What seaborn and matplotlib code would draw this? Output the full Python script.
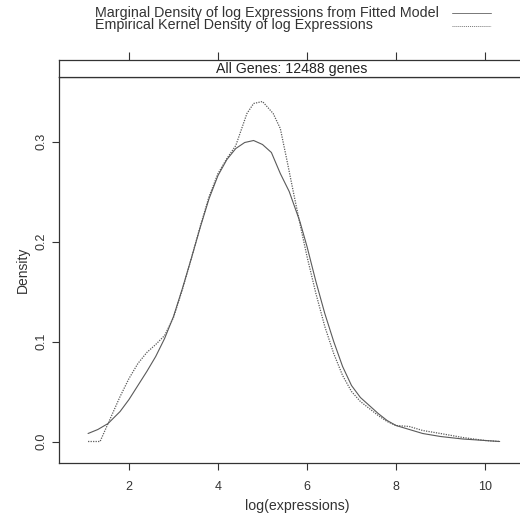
import numpy as np
import pandas as pd
import seaborn as sns
import matplotlib
matplotlib.use('Agg')
import matplotlib.pyplot as plt

# curves
fit_x = [1.08, 1.3, 1.53, 1.8, 2.0, 2.2, 2.4, 2.6, 2.8, 3.0, 3.2, 3.4, 3.6, 3.8, 4.0,
         4.2, 4.4, 4.6, 4.8, 5.0, 5.2, 5.4, 5.6, 5.84, 6.0, 6.2, 6.4, 6.6, 6.8, 7.0,
         7.2, 7.4, 7.6, 7.8, 8.0, 8.3, 8.6, 9.0, 9.5, 10.0, 10.33]
fit_y = [0.008, 0.012, 0.018, 0.03, 0.042, 0.056, 0.07, 0.085, 0.103, 0.125, 0.153, 0.183, 0.214, 0.243, 0.266,
         0.282, 0.293, 0.299, 0.301, 0.297, 0.289, 0.268, 0.25, 0.22, 0.195, 0.16, 0.128, 0.1, 0.075, 0.056,
         0.044, 0.036, 0.028, 0.021, 0.016, 0.012, 0.008, 0.005, 0.0025, 0.001, 0.0]

emp_x = [1.08, 1.35, 1.53, 1.8, 2.0, 2.2, 2.4, 2.6, 2.8, 3.0, 3.2, 3.4, 3.6, 3.8, 4.0,
         4.2, 4.4, 4.65, 4.8, 5.0, 5.24, 5.4, 5.55, 5.7, 5.84, 6.0, 6.2, 6.4, 6.6, 6.8, 7.0,
         7.2, 7.4, 7.6, 7.8, 8.0, 8.3, 8.6, 9.0, 9.5, 10.0, 10.33]
emp_y = [0.0, 0.0, 0.018, 0.045, 0.063, 0.078, 0.089, 0.097, 0.106, 0.124, 0.152, 0.183, 0.215, 0.245, 0.268,
         0.283, 0.296, 0.328, 0.338, 0.340, 0.328, 0.313, 0.281, 0.248, 0.218, 0.185, 0.148, 0.115, 0.088, 0.066, 0.05,
         0.04, 0.033, 0.026, 0.02, 0.016, 0.015, 0.011, 0.008, 0.004, 0.001, 0.0]

x_ticks = [2, 4, 6, 8, 10]
y_ticks = [0.0, 0.1, 0.2, 0.3]
legend_labels = ['Marginal Density of log Expressions from Fitted Model',
                 'Empirical Kernel Density of log Expressions']
strip_text = 'All Genes: 12488 genes'

fit = pd.DataFrame({'x': fit_x, 'y': fit_y})
emp = pd.DataFrame({'x': emp_x, 'y': emp_y})

sns.set_style('white')
plt.rcParams['font.family'] = ['Liberation Sans', 'DejaVu Sans']

W, H = 520, 519
fig = plt.figure(figsize=(5.2, 5.19), dpi=100)

def box(l, t, r, b):
    return [l / W, 1 - b / H, (r - l) / W, (b - t) / H]

line_col = '#5a5a5a'
edge_col = '#333333'
right_px = 536

ax = fig.add_axes(box(59, 77, right_px, 463))
sns.lineplot(data=fit, x='x', y='y', ax=ax, color=line_col, lw=0.8, linestyle='-')
sns.lineplot(data=emp, x='x', y='y', ax=ax, color=line_col, lw=0.9, linestyle=(0, (1, 1)))
ax.set_xlim(0.427, 2 + (right_px - 129) / 44.5)
ax.set_ylim(-0.0215, 0.3645)
ax.set_xticks(x_ticks)
ax.set_yticks(y_ticks)
ax.set_xticklabels([str(v) for v in x_ticks], fontsize=9, color='#333333')
ax.set_yticklabels(['0.0', '0.1', '0.2', '0.3'], fontsize=9, color='#333333',
                   rotation=90, va='center')
ax.tick_params(axis='both', direction='out', length=5, width=0.8, color=edge_col,
               bottom=True, left=True, pad=4)
ax.tick_params(axis='x', pad=8)
ax.tick_params(axis='y', pad=3)
ax.set_xlabel('log(expressions)', fontsize=10.2, color='#333333', labelpad=4)
ax.set_ylabel('Density', fontsize=10, color='#333333', labelpad=4)
for s in ax.spines.values():
    s.set_color(edge_col)
    s.set_linewidth(0.9)

# strip on top of the panel
sax = fig.add_axes(box(59, 60, right_px, 77))
sax.set_xlim(ax.get_xlim())
sax.set_ylim(0, 1)
sax.set_facecolor('white')
sax.set_xticks(x_ticks)
sax.set_yticks([])
sax.tick_params(axis='x', direction='out', length=6, width=0.8, color=edge_col,
                bottom=False, top=True, labelbottom=False, labeltop=False)
for s in sax.spines.values():
    s.set_color(edge_col)
    s.set_linewidth(0.9)
sax.text((292 - 59) / (right_px - 59), 0.5, strip_text, transform=sax.transAxes,
         ha='center', va='center', fontsize=10.2, color='#222222')

# legend at top, lattice style
for i, lab in enumerate(legend_labels):
    yy = 13 + i * 12.5
    fig.text(95 / W, 1 - yy / H, lab, ha='left', va='center', fontsize=10.25, color='#333333')
    fig.add_artist(plt.Line2D([452 / W, 491 / W], [1 - yy / H, 1 - yy / H],
                              color='#777777', lw=0.7,
                              linestyle='-' if i == 0 else (0, (1, 1))))

fig.savefig('out.png', dpi=100)
